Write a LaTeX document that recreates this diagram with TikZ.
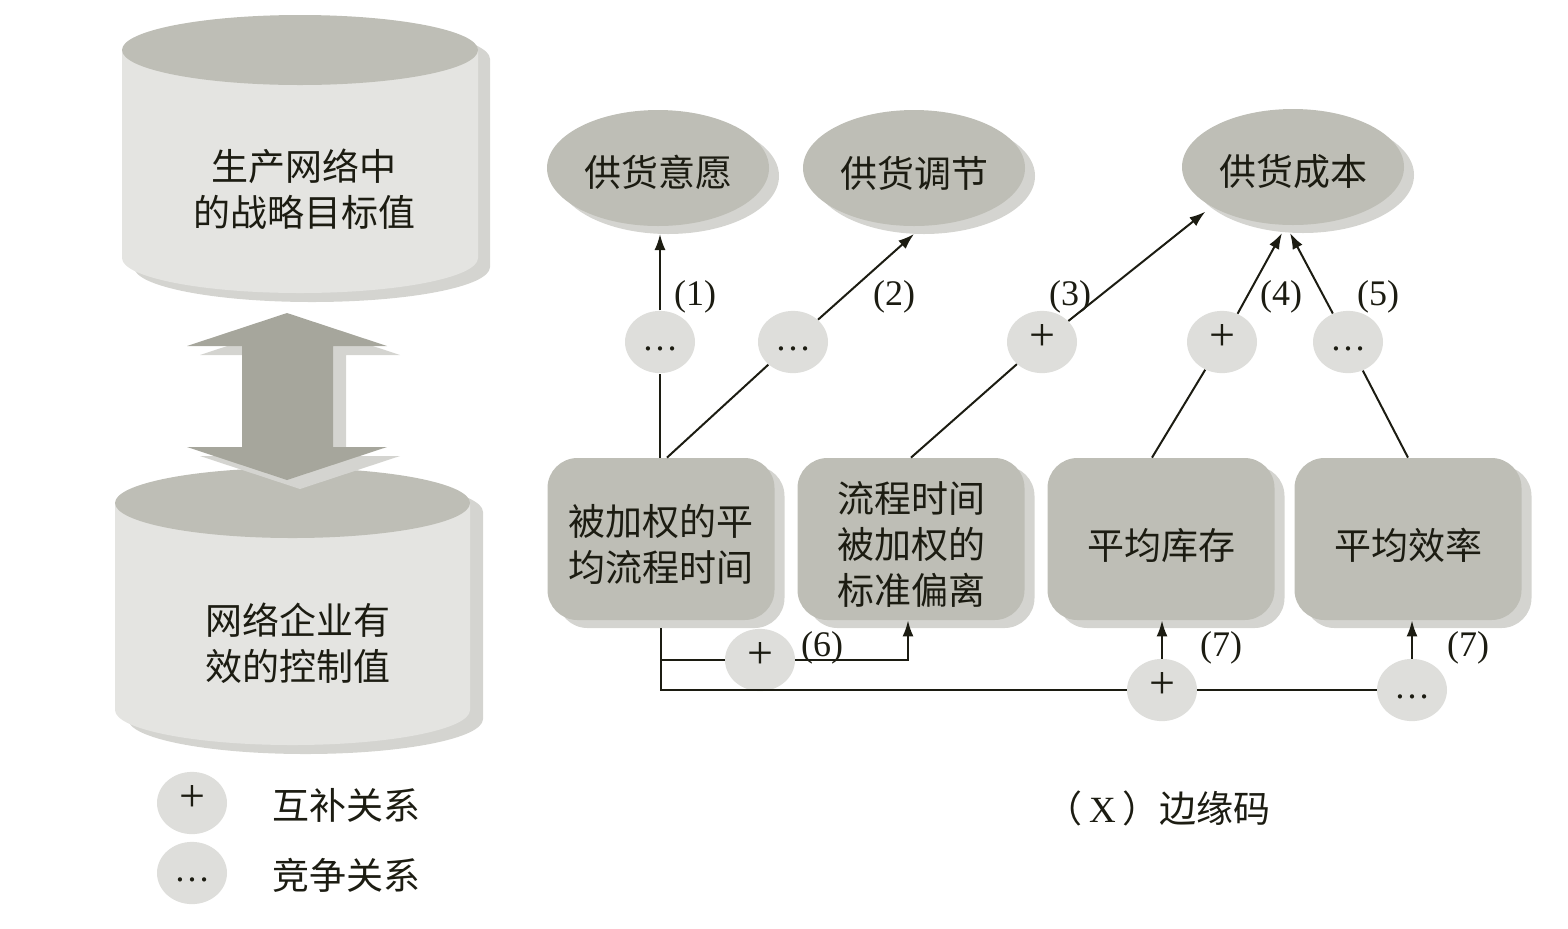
\documentclass[tikz,border=0pt]{standalone}
\usepackage{fontspec}
\setmainfont{Liberation Serif}
\newfontfamily\cjk{Noto Sans CJK SC}
\usepackage{tikz}
\usetikzlibrary{arrows.meta,shapes.geometric,shadows}
\definecolor{facegray}{RGB}{190,190,182}
\definecolor{sidegray}{RGB}{228,228,225}
\definecolor{shadegray}{RGB}{212,212,208}
\definecolor{arrowgray}{RGB}{166,166,156}
\definecolor{relgray}{RGB}{222,222,219}
\definecolor{ink}{RGB}{28,28,18}
\newcommand\plussign{{\fontsize{23pt}{23pt}\selectfont +}}
\newcommand\lift{\rule{0pt}{21pt}}

\begin{document}
\begin{tikzpicture}[x=0.5pt,y=-0.5pt,>={Latex[length=8pt,width=5.5pt]},
   every node/.style={text=ink,font=\fontsize{18pt}{22pt}\selectfont},
   cn/.style={font=\cjk\fontsize{18.5pt}{23pt}\selectfont,align=center},
   lowtext/.style={execute at begin node={\rule{0pt}{#1}}},
   oval/.style={cn,lowtext=20.5pt,ellipse,fill=facegray,minimum width=111pt,minimum height=58pt,inner sep=0pt,outer sep=4pt,
     drop shadow={shadow xshift=5pt,shadow yshift=-4pt,fill=shadegray,opacity=1}},
   box/.style={cn,lowtext=22pt,rectangle,rounded corners=15pt,fill=facegray,minimum width=113.5pt,minimum height=81pt,inner sep=0pt,
     drop shadow={shadow xshift=5pt,shadow yshift=-4pt,fill=shadegray,opacity=1}},
   rel/.style={ellipse,fill=relgray,minimum width=35pt,minimum height=22pt,inner sep=0pt},
   link/.style={draw=ink,line width=1pt}]
\useasboundingbox (0,0) rectangle (1568,928);

% upper cylinder
\fill[shadegray] (134,59) -- (134,267) arc[start angle=180,end angle=360,x radius=89pt,y radius=17.5pt]
   -- (490,59) arc[start angle=0,end angle=180,x radius=89pt,y radius=17.5pt] -- cycle;
\fill[sidegray] (122,50) -- (122,258) arc[start angle=180,end angle=360,x radius=89pt,y radius=17.5pt] -- (478,50) -- cycle;
\fill[facegray] (300,50) ellipse[x radius=89pt,y radius=17.5pt];
\node[cn] (goal) at (304,189) {生产网络中\\的战略目标值};

% lower cylinder
\fill[shadegray] (128,512) -- (128,719) arc[start angle=180,end angle=360,x radius=88.75pt,y radius=17.5pt]
   -- (483,512) arc[start angle=0,end angle=180,x radius=88.75pt,y radius=17.5pt] -- cycle;
\fill[sidegray] (115,503) -- (115,710) arc[start angle=180,end angle=360,x radius=88.75pt,y radius=17.5pt] -- (470,503) -- cycle;
\fill[facegray] (292.5,503) ellipse[x radius=88.75pt,y radius=17.5pt];
\node[cn] (ctrl) at (298,643) {网络企业有\\效的控制值};

% double arrow between them
\fill[shadegray,shift={(13,9)}] (287,313) -- (387,346) -- (333,346) -- (333,447) -- (387,447) -- (287,480)
   -- (187,447) -- (242,447) -- (242,346) -- (187,346) -- cycle;
\fill[arrowgray] (287,313) -- (387,346) -- (333,346) -- (333,447) -- (387,447) -- (287,480)
   -- (187,447) -- (242,447) -- (242,346) -- (187,346) -- cycle;

% targets
\node[oval] (will) at (658,168) {供货意愿};
\node[oval] (adjust) at (914,168) {供货调节};
\node[oval] (cost) at (1293,167) {供货成本};

% levers
\node[box] (mean) at (661,539) {\lift 被加权的平\\均流程时间};
\node[box] (spread) at (911,539) {\lift 流程时间\\被加权的\\标准偏离};
\node[box] (stock) at (1161,539) {平均库存};
\node[box] (eff) at (1408,539) {平均效率};

% relations
\node[rel] (r1) at (660,342) {\strut\ldots};
\node[rel] (r2) at (793,342) {\strut\ldots};
\node[rel] (r3) at (1042,342) {\strut\plussign};
\node[rel] (r4) at (1222,342) {\strut\plussign};
\node[rel] (r5) at (1348,342) {\strut\ldots};
\node[rel] (r6) at (760,660) {\strut\plussign};
\node[rel] (r7a) at (1162,690) {\strut\plussign};
\node[rel] (r7b) at (1412,690) {\strut\ldots};

\node (n1) at (695,297) {(1)};
\node (n2) at (894,297) {(2)};
\node (n3) at (1070,297) {(3)};
\node (n4) at (1281,297) {(4)};
\node (n5) at (1378,297) {(5)};
\node (n6) at (822,648) {(6)};
\node (n7a) at (1221,648) {(7)};
\node (n7b) at (1468,648) {(7)};

\draw[link] (mean.north -| r1) -- (r1);
\draw[link,->] (r1) -- (r1 |- will.south);
\draw[link] ([xshift=3pt]mean.north) -- (r2);
\draw[link,->] (r2) -- (adjust.south);
\draw[link] (spread.north) -- (r3);
\draw[link,->] (r3) -- (cost.207);
\draw[link] ([xshift=-4.5pt]stock.north) -- (r4);
\draw[link,->] (r4) -- ([xshift=-5.5pt]cost.south);
\draw[link] (eff.north) -- (r5);
\draw[link,->] (r5) -- ([xshift=-1.5pt]cost.south);

\coordinate (mean-out) at ([yshift=-4pt]mean.south);
\draw[link] (mean-out) |- (r6);
\draw[link,->] (r6) -| ([xshift=-1.5pt]spread.south);
\draw[link] (mean-out) |- (r7a);
\draw[link] (r7a) -- (r7b);
\draw[link,->] (r7a) -- (r7a |- stock.south);
\draw[link,->] (r7b) -- (r7b |- eff.south);

% legend
\node[rel] (key-plus) at (192,803) {\strut\plussign};
\node[cn] (key-plus-txt) at (346,805) {互补关系};
\node[rel] (key-dots) at (192,873) {\strut\ldots};
\node[cn] (key-dots-txt) at (346,875) {竞争关系};
\node[cn] (codes) at (1158,808) {（\,{\rmfamily X}\,）边缘码};
\end{tikzpicture}
\end{document}
